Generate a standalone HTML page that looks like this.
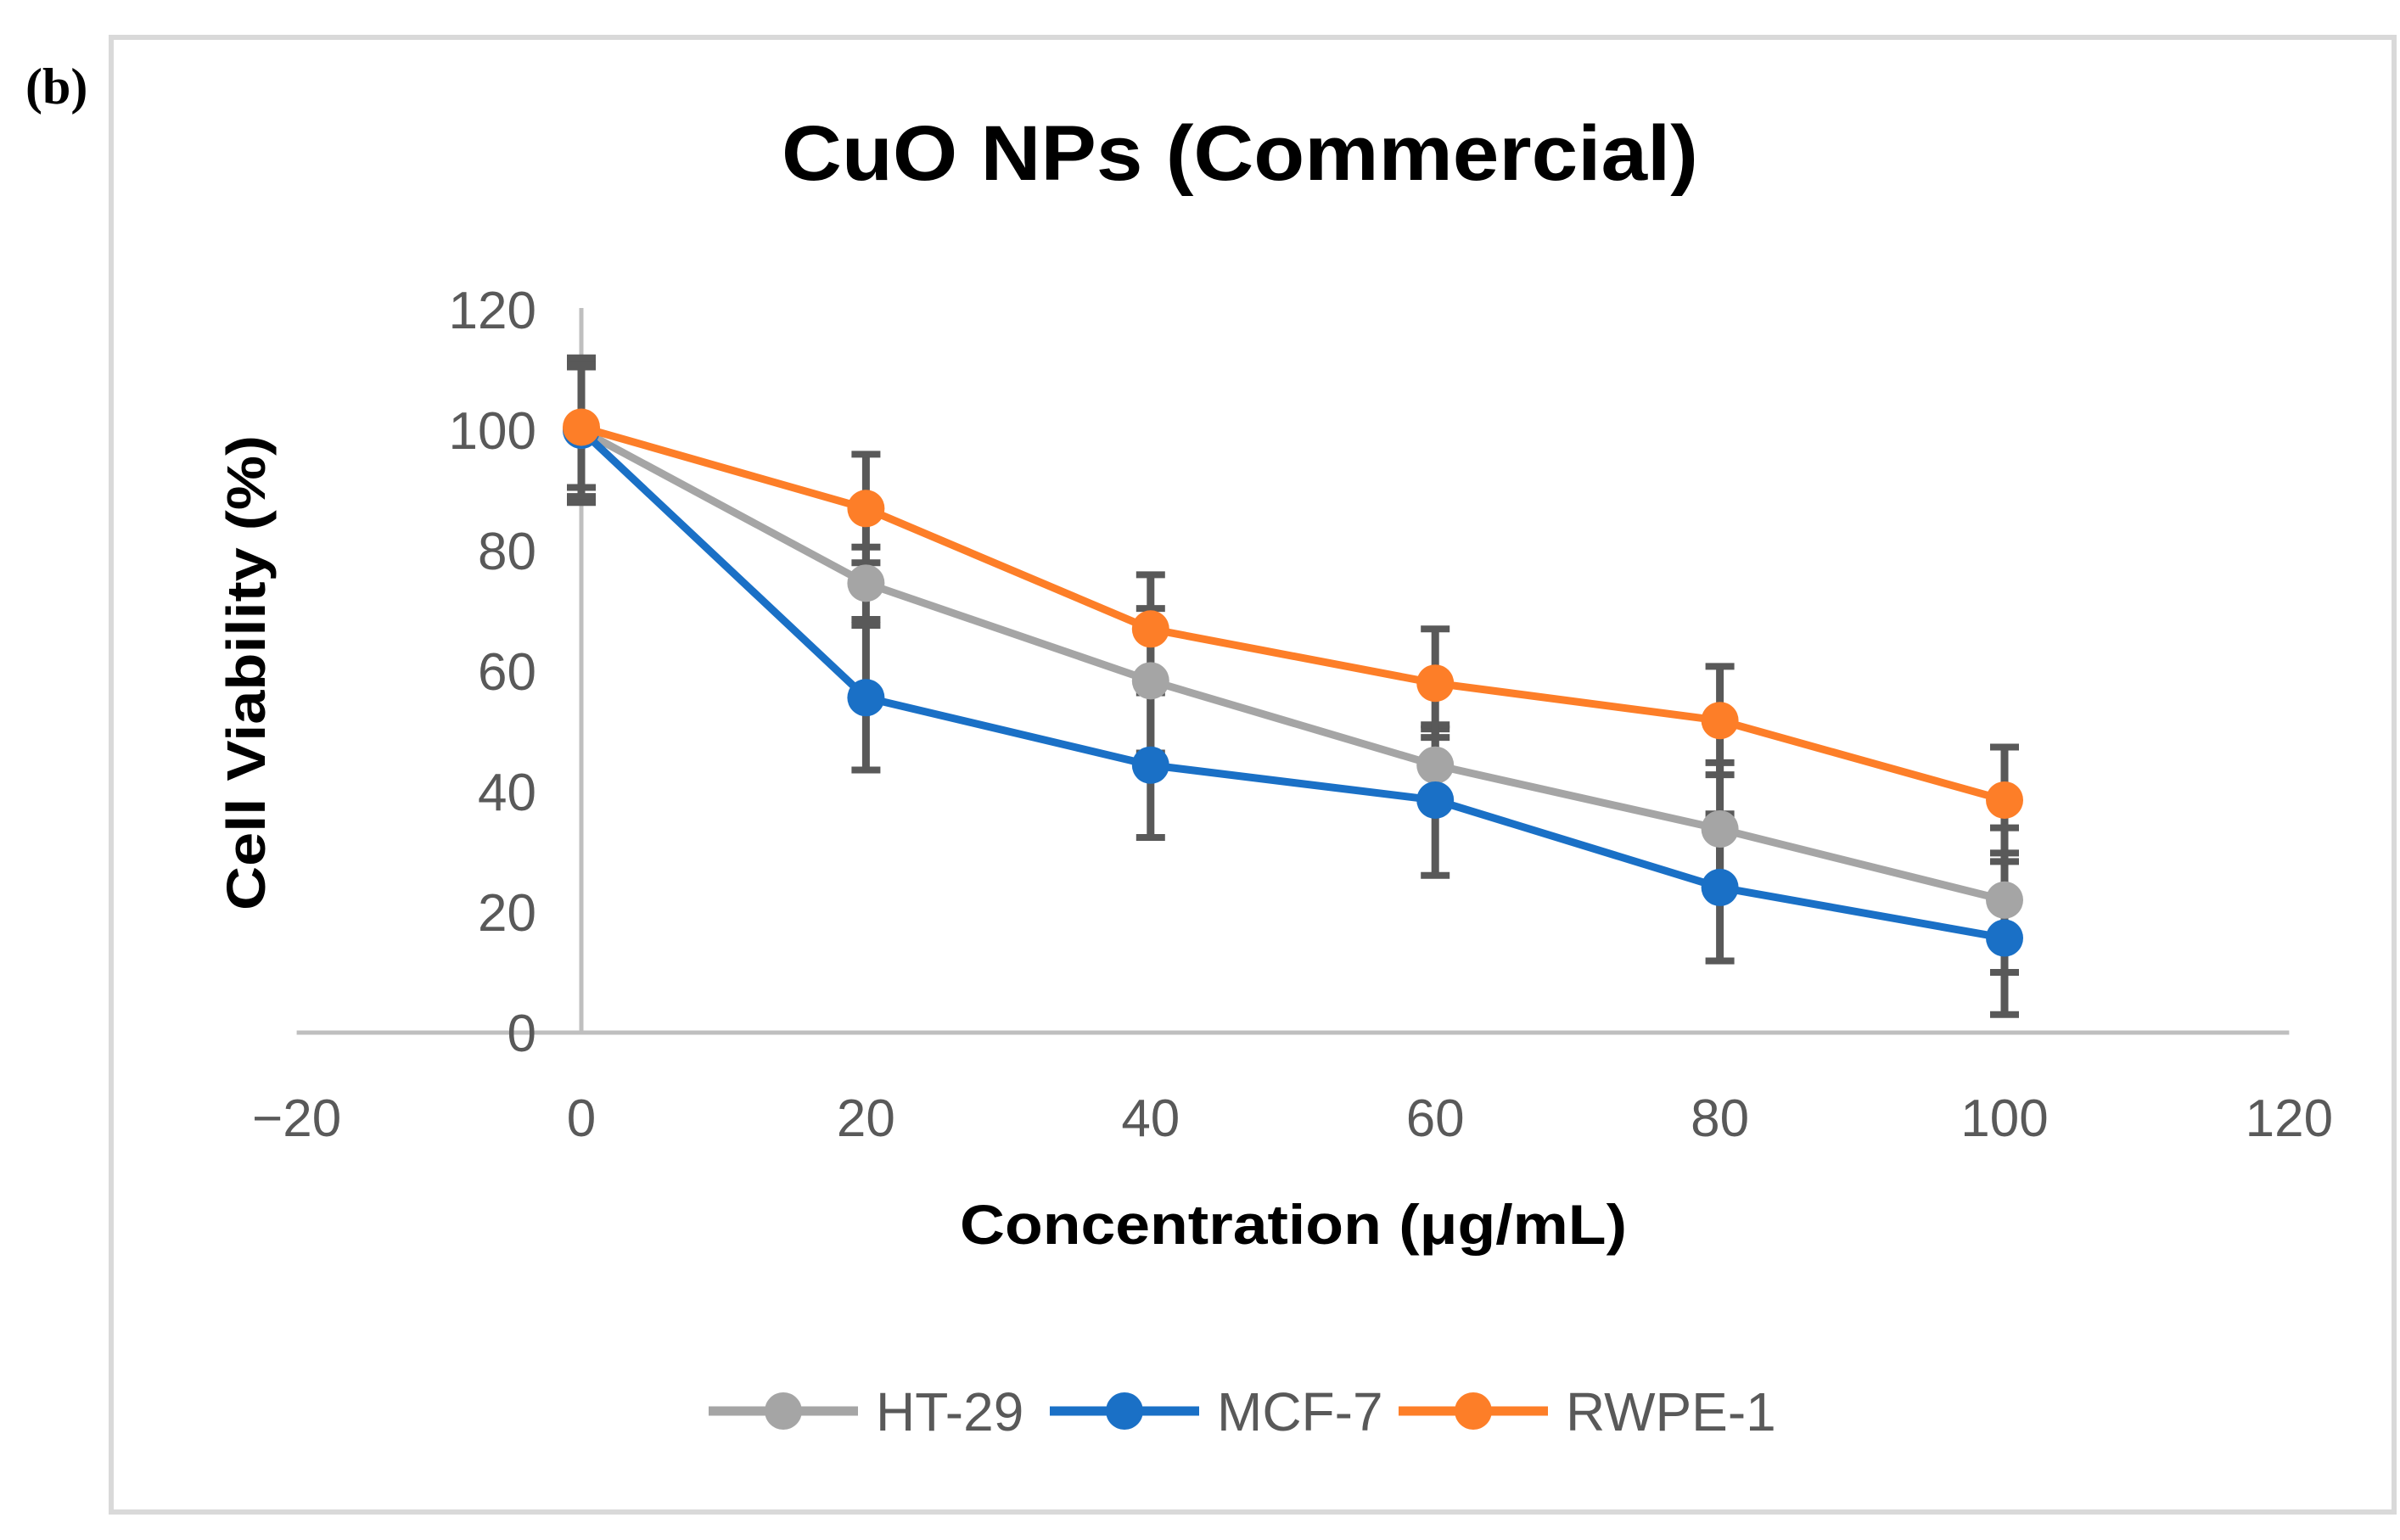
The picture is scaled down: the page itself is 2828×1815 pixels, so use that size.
<!DOCTYPE html>
<html><head><meta charset="utf-8"><style>
html,body{margin:0;padding:0;background:#fff;}
svg{display:block;}
text{font-family:"Liberation Sans",sans-serif;}
</style></head><body>
<svg id="chart" width="2828" height="1815" viewBox="0 0 2828 1815" xmlns="http://www.w3.org/2000/svg">
<rect x="131" y="44" width="2690" height="1738" fill="#fff" stroke="#d9d9d9" stroke-width="6"/>
<text x="30" y="122" style="font-family:'Liberation Serif',serif;font-weight:bold;font-size:60px" fill="#000">(b)</text>
<text x="1461" y="212" text-anchor="middle" font-weight="bold" font-size="92" fill="#000" textLength="1080" lengthAdjust="spacingAndGlyphs">CuO NPs (Commercial)</text>
<g id="grid"></g>
<g id="series"></g>
<text x="1524" y="1466" text-anchor="middle" font-weight="bold" font-size="66" fill="#000" textLength="786" lengthAdjust="spacingAndGlyphs">Concentration (μg/mL)</text>
<text transform="translate(312,793) rotate(-90)" text-anchor="middle" font-weight="bold" font-size="64" fill="#000" textLength="560" lengthAdjust="spacingAndGlyphs">Cell Viability (%)</text>
<g id="legend"></g>
</svg>
<script>
const xValues = [0, 20, 40, 60, 80, 100];
const xTicks = [-20, 0, 20, 40, 60, 80, 100, 120];
const yTicks = [0, 20, 40, 60, 80, 100, 120];
const seriesNames = ["HT-29", "MCF-7", "RWPE-1"];
const ht29 = [100, 74.6, 58.4, 44.4, 33.8, 22];
const mcf7 = [100, 55.6, 44.4, 38.6, 24.1, 15.7];
const rwpe1 = [100.5, 87, 67, 58, 51.8, 38.6];
const ht29Err = [11, 6, 12, 6, 11, 12];
const mcf7Err = [12, 12, 12, 12.5, 12.2, 12.7];
const rwpe1Err = [10, 9, 9, 9, 9, 8.8];

const NS = "http://www.w3.org/2000/svg";
const X0 = 685, XPU = (2362 - 685) / 100;
const Y0 = 1217, YPU = (1217 - 365) / 120;
function xs(v){ return X0 + v * XPU; }
function ys(v){ return Y0 - v * YPU; }
function mk(tag, attrs, parent){
  const e = document.createElementNS(NS, tag);
  for (const k in attrs) e.setAttribute(k, attrs[k]);
  parent.appendChild(e);
  return e;
}
const grid = document.getElementById('grid');
const sg = document.getElementById('series');
const lg = document.getElementById('legend');

let ax = mk('line', {x1: xs(-20), x2: xs(120), y1: ys(0), y2: ys(0), stroke: '#bfbfbf', 'stroke-width': 5}, grid);


let ay = mk('line', {x1: xs(0), x2: xs(0), y1: ys(120) - 2, y2: ys(0), stroke: '#bfbfbf', 'stroke-width': 5}, grid);



yTicks.forEach(t => {
  const tx = mk('text', {x: 632, y: ys(t) + 22, 'text-anchor': 'end', 'font-size': 62, fill: '#595959'}, grid);
  tx.textContent = t;
  
  
});
xTicks.forEach(t => {
  const tx = mk('text', {x: xs(t), y: 1339, 'text-anchor': 'middle', 'font-size': 62, fill: '#595959'}, grid);
  tx.textContent = t < 0 ? '\u2212' + Math.abs(t) : t;
  
  
});

const allVals = [ht29, mcf7, rwpe1];
const allErr = [ht29Err, mcf7Err, rwpe1Err];
const colors = ['#a5a5a5', '#1a70c6', '#fd7e28'];
const keys = ['ht29', 'mcf7', 'rwpe1'];

allVals.forEach((vals, s) => {
  vals.forEach((v, i) => {
    const x = xs(xValues[i]), e = allErr[s][i];
    const g = mk('g', {}, sg);
    
    
    mk('line', {x1: x, x2: x, y1: ys(v + e), y2: ys(v - e), stroke: '#595959', 'stroke-width': 9}, g);
    mk('line', {x1: x - 17, x2: x + 17, y1: ys(v + e), y2: ys(v + e), stroke: '#595959', 'stroke-width': 8}, g);
    mk('line', {x1: x - 17, x2: x + 17, y1: ys(v - e), y2: ys(v - e), stroke: '#595959', 'stroke-width': 8}, g);
  });
});
allVals.forEach((vals, s) => {
  const pts = vals.map((v, i) => xs(xValues[i]) + ',' + ys(v)).join(' ');
  const pl = mk('polyline', {points: pts, fill: 'none', stroke: colors[s], 'stroke-width': 9, 'stroke-linejoin': 'round'}, sg);
  
  
  vals.forEach((v, i) => {
    const c = mk('circle', {cx: xs(xValues[i]), cy: ys(v), r: 22, fill: colors[s]}, sg);
    
    
  });
});
const legX = [835, 1237, 1648];
seriesNames.forEach((n, s) => {
  const g = mk('g', {}, lg);
  
  
  const x = legX[s];
  mk('line', {x1: x, x2: x + 176, y1: 1663, y2: 1663, stroke: colors[s], 'stroke-width': 11}, g);
  mk('circle', {cx: x + 88, cy: 1663, r: 22, fill: colors[s]}, g);
  const t = mk('text', {x: x + 197, y: 1686, 'font-size': 64, fill: '#595959'}, g);
  t.textContent = n;
});
</script>
</body></html>
